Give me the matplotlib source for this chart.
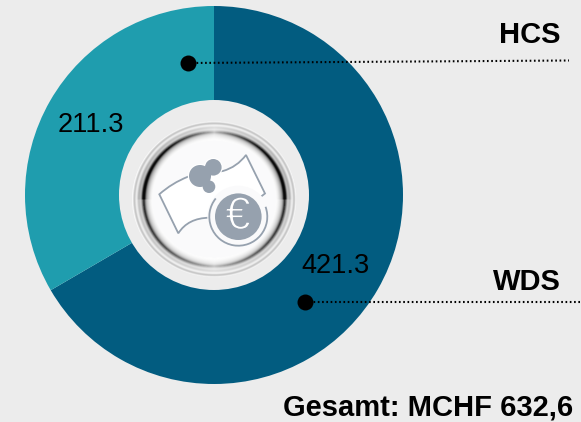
import numpy as np
import matplotlib
matplotlib.use('Agg')
import matplotlib.pyplot as plt
import matplotlib.patheffects as pe
from matplotlib.patches import Circle, Ellipse, PathPatch, Arc
from matplotlib.path import Path

segmentos = ['WDS', 'HCS']
valores = [421.3, 211.3]
rotulos_valores = ['421.3', '211.3']
cores = ['#025c80', '#1f9dae']
total_texto = 'Gesamt: MCHF 632,6'

FUNDO = '#ececec'
ICONE = '#96a1ae'
CX, CY, RAIO = 214, 195, 189

plt.rcParams['font.family'] = ['Liberation Sans', 'DejaVu Sans']

fig = plt.figure(figsize=(5.81, 4.22), dpi=100, facecolor=FUNDO)
ax = fig.add_axes([0, 0, 1, 1])
ax.set_facecolor(FUNDO)

# o eixo y fica invertido, entao 270 graus e o topo da tela
ax.pie(valores, colors=cores, startangle=270, counterclock=True,
       center=(CX, CY), radius=RAIO, frame=True,
       wedgeprops={'linewidth': 0})
ax.set_xlim(0, 581)
ax.set_ylim(422, 0)
ax.set_aspect('equal')
ax.axis('off')

ax.add_patch(Circle((CX, CY), 95, fc=FUNDO, ec='none', zorder=3))
ax.add_patch(Ellipse((214, 199), 164, 154, fc='#fafafb', ec='none', zorder=3))

# anel metalico
yy, xx = np.mgrid[110:290:0.5, 120:310:0.5]
dx = (xx - 214) / 81
dy = (yy - 199) / 77
r = np.hypot(dx, dy)
ang = np.arctan2(dy, dx)
forca = np.abs(np.cos(ang)) ** 0.8
forca = forca * np.where(dy > 0, 0.6, 1.0) + 0.22


def faixa(centro, largura):
    return np.exp(-((r - centro) / largura) ** 2)


cinza = 1 - 0.85 * forca * faixa(0.875, 0.024)
cinza = cinza - 0.3 * forca * faixa(0.85, 0.05) * (r < 0.875)
cinza = cinza - 0.24 * faixa(0.985, 0.016)
cinza = cinza - 0.18 * (0.5 + forca) * faixa(0.93, 0.022)
cinza = np.clip(cinza, 0.03, 1)
rgba = np.dstack([cinza, cinza, cinza, np.where(r < 1.01, 1.0, 0.0)])
rgba[r < 0.76, 3] = 0
ax.imshow(rgba, extent=(120, 310, 290, 110), zorder=4, interpolation='bilinear', aspect='auto')
ax.set_xlim(0, 581)
ax.set_ylim(422, 0)

# nota do icone
codes = [Path.MOVETO, Path.CURVE3, Path.CURVE3, Path.LINETO, Path.CURVE3, Path.CURVE3,
         Path.LINETO, Path.LINETO, Path.LINETO, Path.CURVE3, Path.CURVE3, Path.CLOSEPOLY]
nota = [(159.3, 194.3), (172, 183), (188, 176.7), (223, 171), (237, 167), (246, 155),
        (265, 193.5), (256.7, 200), (209.3, 217.7), (188, 218), (178.3, 233.3), (159.3, 194.3)]
ax.add_patch(PathPatch(Path(nota, codes), fc='white', ec=ICONE, lw=1.3, zorder=5))

bolhas = [(200, 176, 11), (213.3, 167.3, 8.3), (209, 186.7, 6.3)]
for cx, cy, rc in bolhas:
    ax.add_patch(Circle((cx, cy), rc + 1.2, fc='white', ec='none', zorder=6))
for cx, cy, rc in bolhas:
    ax.add_patch(Circle((cx, cy), rc, fc=ICONE, ec='none', zorder=7))

ax.add_patch(Circle((238.3, 216.7), 31, fc='#fafafb', ec='none', zorder=6))
ax.add_patch(Arc((238.3, 216.7), 58, 58, theta1=-20, theta2=219, ec=ICONE, lw=1.3, zorder=7))
ax.add_patch(Circle((238.3, 216.7), 23.3, fc=ICONE, ec='none', zorder=7))
euro = ax.text(238, 217, '€', color='white', fontsize=33, ha='center', va='center',
               family='Liberation Sans', zorder=8)
# afina o traco do simbolo
euro.set_path_effects([pe.Stroke(linewidth=1.0, foreground=ICONE)])

# marcadores e linhas pontilhadas
pontos = (0, (0.8, 1.25))
ax.plot([188, 569], [63, 60.5], ls=pontos, color='black', lw=1.5, zorder=9)
ax.plot([188], [63], 'o', color='black', ms=11.5, mew=0, zorder=10)
ax.plot([305, 581], [302, 302], ls=pontos, color='black', lw=1.5, zorder=9)
ax.plot([305], [302], 'o', color='black', ms=11.5, mew=0, zorder=10)

ax.text(560.5, 35, segmentos[1], fontsize=21, fontweight='bold', ha='right', va='center', zorder=11)
ax.text(560.5, 282, segmentos[0], fontsize=21, fontweight='bold', ha='right', va='center', zorder=11)
ax.text(91, 125, rotulos_valores[1], fontsize=19.5, ha='center', va='center', zorder=11)
ax.text(336, 266, rotulos_valores[0], fontsize=19.5, ha='center', va='center', zorder=11)
ax.text(573, 407, total_texto, fontsize=21, fontweight='bold', ha='right', va='center', zorder=11)

fig.savefig('out.png', dpi=100, facecolor=FUNDO)
